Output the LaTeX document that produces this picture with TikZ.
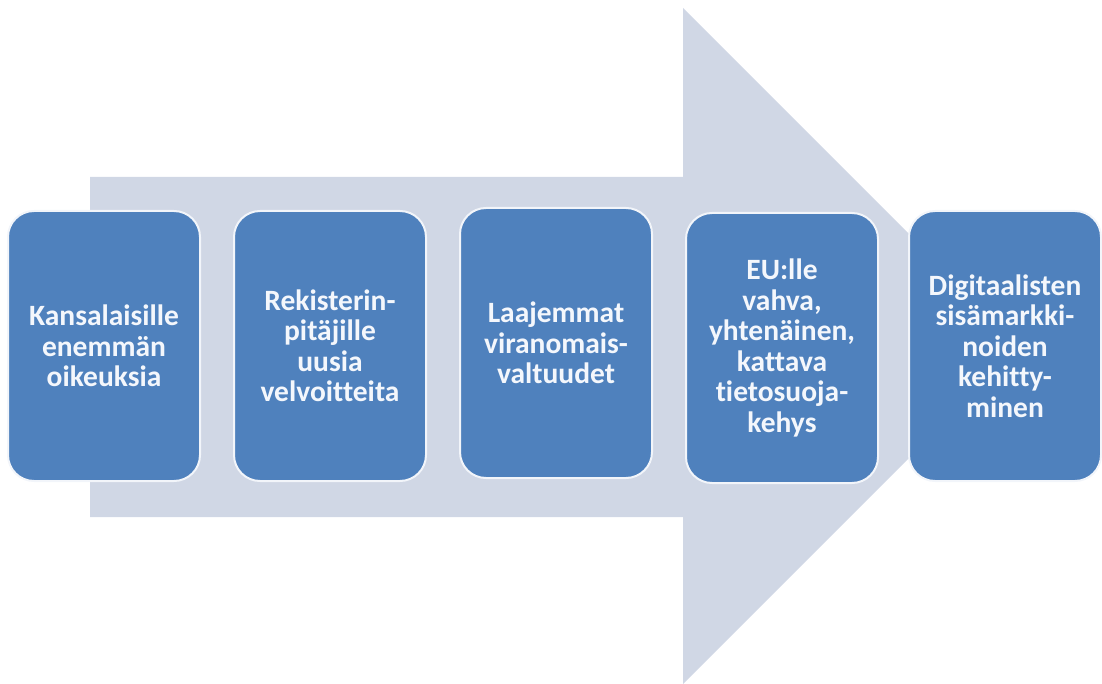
\documentclass[tikz,border=0pt]{standalone}
\usepackage{fontspec}
\setmainfont{Carlito}[Ligatures=NoCommon]
\definecolor{boxblue}{HTML}{4F81BD}
\definecolor{arrowgray}{HTML}{D0D7E5}
\definecolor{edgewhite}{HTML}{F2F5FA}
\definecolor{textwhite}{HTML}{F4F7FC}
\begin{document}
\begin{tikzpicture}[x=1pt,y=-1pt,
  stepbox/.style={draw=edgewhite, line width=2pt, fill=boxblue, rounded corners=26pt,
    minimum width=192pt, minimum height=270pt, text width=190pt, align=center,
    font=\fontsize{29.5}{30.5}\selectfont\bfseries, text=textwhite, inner sep=0pt}]
\useasboundingbox (0,0) rectangle (1102,684);
\fill[arrowgray] (90,177) coordinate (s1) -- (683,177) -- (683,8) -- (1021,346) coordinate (tip)
  -- (683,684) -- (683,517) -- (90,517) -- cycle;
\node[stepbox] (b1) at (104,346) {Kansalaisille\\enemmän\\oikeuksia};
\node[stepbox] (b2) at (330,346) {Rekisterin-\\pitäjille\\uusia\\velvoitteita};
\node[stepbox] (b3) at (556,343) {Laajemmat\\viranomais-\\valtuudet};
\node[stepbox] (b4) at (782,348) {EU:lle\\vahva,\\yhtenäinen,\\kattava\\tietosuoja-\\kehys};
\node[stepbox] (b5) at (1005,346) {Digitaalisten\\sisämarkki-\\noiden\\kehitty-\\minen};
\end{tikzpicture}
\end{document}
